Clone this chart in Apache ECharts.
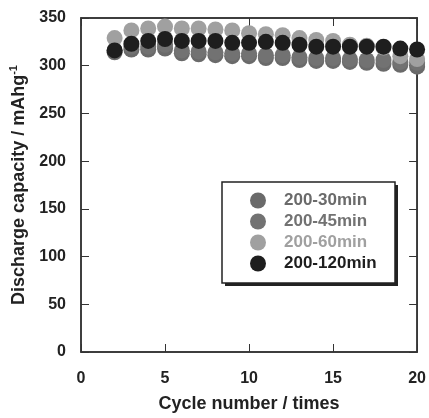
<!DOCTYPE html>
<html>
<head>
<meta charset="utf-8">
<script src="https://cdn.jsdelivr.net/npm/echarts@6/dist/echarts.min.js"></script>
<style>
  html, body { margin: 0; padding: 0; background: #fff; }
  #main { width: 429px; height: 418px; }
</style>
</head>
<body>
<div id="main"></div>
<script>
// cycle numbers
const cycles = [2, 3, 4, 5, 6, 7, 8, 9, 10, 11, 12, 13, 14, 15, 16, 17, 18, 19, 20];
// discharge capacity (mAh/g) per series
const cap30 = [314, 317, 317, 318, 313, 312, 311, 310, 310, 308, 308, 306, 305, 305, 304, 303, 302, 301, 299];
const cap45 = [316, 320, 320, 322, 316, 315, 314, 313, 313, 311, 311, 309, 308, 308, 307, 306, 306, 304, 303];
const cap60 = [329, 337, 339, 341, 339, 339, 338, 337, 334, 333, 332, 329, 327, 326, 322, 321, 319, 310, 307];
const cap120 = [316, 323, 326, 328, 326, 326, 326, 324, 324, 325, 324, 322, 320, 320, 320, 320, 320, 318, 317];

const seriesNames = ["200-30min", "200-45min", "200-60min", "200-120min"];
const seriesColors = ["#6a6a6a", "#727272", "#a0a0a0", "#1e1e1e"];
const seriesValues = [cap30, cap45, cap60, cap120];

const chart = echarts.init(document.getElementById("main"), null, { renderer: "canvas" });

const font = "Liberation Sans";
const axisLineStyle = { color: "#333", width: 1.5 };
const tickStyle = { inside: true, length: 8, lineStyle: { color: "#333", width: 1 } };

const scatterSeries = seriesNames.map((n, i) => ({
  name: n,
  type: "scatter",
  symbol: "circle",
  symbolSize: 16,
  itemStyle: { color: seriesColors[i], opacity: 1 },
  data: cycles.map((c, k) => [c, seriesValues[i][k]])
}));

// empty series so the top / right mirror axes get drawn
const mirrorSeries = {
  name: "mirror",
  type: "scatter",
  xAxisIndex: 1,
  yAxisIndex: 1,
  silent: true,
  data: []
};

const option = {
  animation: false,
  grid: {
    left: 81, right: 11, top: 18, bottom: 60,
    show: true, borderColor: "#333", borderWidth: 1.5, backgroundColor: "transparent"
  },
  // legend frame + drop shadow
  graphic: [
    {
      type: "rect", z: 1, silent: true,
      shape: { x: 225, y: 185, width: 173, height: 101 },
      style: { fill: "#222" }
    },
    {
      type: "rect", z: 2, silent: true,
      shape: { x: 222, y: 182, width: 173, height: 101 },
      style: { fill: "#fff", stroke: "#222", lineWidth: 1.5 }
    }
  ],
  legend: {
    z: 10,
    orient: "vertical",
    left: 250,
    top: 192,
    padding: 0,
    itemWidth: 16,
    itemHeight: 16,
    itemGap: 4,
    icon: "circle",
    data: seriesNames.map((n, i) => ({
      name: n,
      textStyle: { color: seriesColors[i] }
    })),
    textStyle: { fontFamily: font, fontWeight: "bold", fontSize: 17, padding: [0, 0, 0, 13] }
  },
  xAxis: [
    {
      type: "value",
      min: 0,
      max: 20,
      interval: 5,
      name: "Cycle number / times",
      nameLocation: "middle",
      nameGap: 43,
      nameTextStyle: { fontFamily: font, fontWeight: "bold", fontSize: 18, color: "#222" },
      axisLine: { lineStyle: axisLineStyle },
      axisTick: tickStyle,
      axisLabel: { fontFamily: font, fontWeight: "bold", fontSize: 16, color: "#222", margin: 19 },
      splitLine: { show: false }
    },
    {
      type: "value",
      position: "top",
      min: 0,
      max: 20,
      interval: 5,
      axisLine: { show: true, onZero: false, lineStyle: axisLineStyle },
      axisTick: tickStyle,
      axisLabel: { show: false },
      splitLine: { show: false }
    }
  ],
  yAxis: [
    {
      type: "value",
      min: 0,
      max: 350,
      interval: 50,
      name: "Discharge capacity / mAhg{sup|-1}",
      nameLocation: "middle",
      nameGap: 41,
      nameTextStyle: {
        fontFamily: font, fontWeight: "bold", fontSize: 18, color: "#222",
        rich: {
          sup: { fontFamily: font, fontWeight: "bold", fontSize: 11, color: "#222", verticalAlign: "top", padding: [0, 0, 10, 0] }
        }
      },
      axisLine: { lineStyle: axisLineStyle },
      axisTick: tickStyle,
      axisLabel: { fontFamily: font, fontWeight: "bold", fontSize: 16, color: "#222", margin: 15 },
      splitLine: { show: false }
    },
    {
      type: "value",
      position: "right",
      min: 0,
      max: 350,
      interval: 50,
      axisLine: { show: true, onZero: false, lineStyle: axisLineStyle },
      axisTick: tickStyle,
      axisLabel: { show: false },
      splitLine: { show: false }
    }
  ],
  series: scatterSeries.concat([mirrorSeries])
};

chart.setOption(option);
</script>
</body>
</html>
